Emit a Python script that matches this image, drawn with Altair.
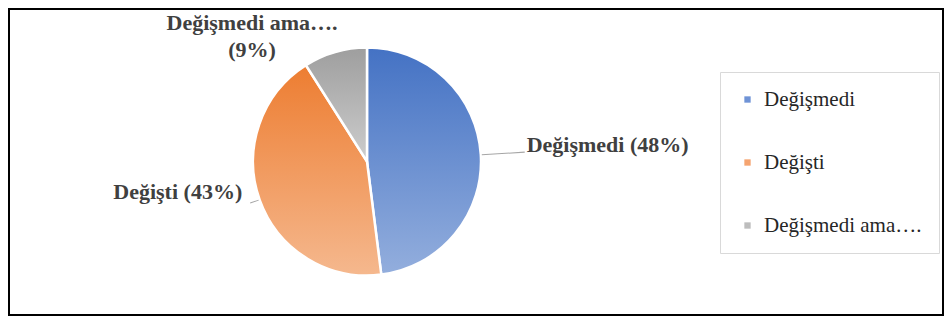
import altair as alt
import pandas as pd

categories = ["Değişmedi", "Değişti", "Değişmedi ama…."]
values = [48, 43, 9]
labels = ["Değişmedi (48%)", "Değişti (43%)", "Değişmedi ama….\n(9%)"]

top_colors = ["#4472C4", "#ED7D31", "#9E9E9E"]
bottom_colors = ["#93AEDD", "#F5B88E", "#CDCDCD"]
legend_colors = ["#6F93D6", "#F5A470", "#BDBDBD"]

df = pd.DataFrame({"category": categories, "value": values,
                   "idx": list(range(len(categories))), "label": labels})

total = sum(values)
theta_scale = alt.Scale(domain=[0, total])
CX, CY, R = 358, 152.5, 114

base = (
    alt.Chart(df)
    .transform_window(cum="sum(value)", sort=[alt.SortField("idx")])
    .transform_calculate(start="datum.cum - datum.value",
                         mid="datum.cum - datum.value / 2",
                         mid2="datum.cum - datum.value / 2 + 0.12")
)

pie_base = base.mark_arc(radius=R, stroke="white", strokeWidth=2.5).encode(
    theta=alt.Theta("start:Q", scale=theta_scale),
    theta2="cum:Q",
    x=alt.value(CX), y=alt.value(CY),
    color=alt.Color(
        "category:N",
        scale=alt.Scale(domain=categories, range=legend_colors),
        sort=categories,
        legend=alt.Legend(
            title=None, orient="none", legendX=711, legendY=63,
            symbolType="square", symbolSize=40, symbolStrokeWidth=0,
            labelFont="Liberation Serif", labelFontSize=21, labelColor="#262626",
            labelOffset=6, rowPadding=41, padding=17,
            strokeColor="#d9d9d9", fillColor="white", labelLimit=300,
        ),
    ),
)

layers = [pie_base]
for cat, tc, bc in zip(categories, top_colors, bottom_colors):
    grad = alt.Gradient(
        gradient="linear",
        stops=[alt.GradientStop(color=tc, offset=0), alt.GradientStop(color=bc, offset=1)],
        x1=0, x2=0, y1=0, y2=1,
    )
    layers.append(
        base.transform_filter(alt.datum.category == cat)
        .mark_arc(radius=R, stroke="white", strokeWidth=2.5, fill=grad)
        .encode(theta=alt.Theta("start:Q", scale=theta_scale), theta2="cum:Q",
                x=alt.value(CX), y=alt.value(CY))
    )

# leader lines
for cat, r2 in [(categories[0], 158), (categories[1], 124)]:
    layers.append(
        base.transform_filter(alt.datum.category == cat)
        .mark_arc(fill="#a6a6a6")
        .encode(theta=alt.Theta("mid:Q", scale=theta_scale), theta2="mid2:Q",
                radius=alt.value(r2), radius2=alt.value(R + 1),
                x=alt.value(CX), y=alt.value(CY))
    )

label_specs = [
    (categories[0], 160, "left", 0, -6),
    (categories[1], 122, "right", -10, -11),
    (categories[2], 136, "center", -77, -8),
]
for cat, rad, al, dx, dy in label_specs:
    layers.append(
        base.transform_filter(alt.datum.category == cat)
        .mark_text(radius=rad, align=al, baseline="middle", dx=dx, dy=dy,
                   font="Liberation Serif", fontSize=22, fontWeight="bold",
                   color="#404040", lineBreak="\n", lineHeight=27)
        .encode(theta=alt.Theta("mid:Q", scale=theta_scale), text="label:N",
                x=alt.value(CX), y=alt.value(CY))
    )

chart = (
    alt.layer(*layers)
    .properties(width=934, height=306, padding=1,
                autosize=alt.AutoSizeParams(type="none"))
    .configure_view(stroke="#000000", strokeWidth=2)
    .configure_legend(labelFont="Liberation Serif")
)

chart.save("out.html", embed_options={"renderer": "svg", "actions": False})
